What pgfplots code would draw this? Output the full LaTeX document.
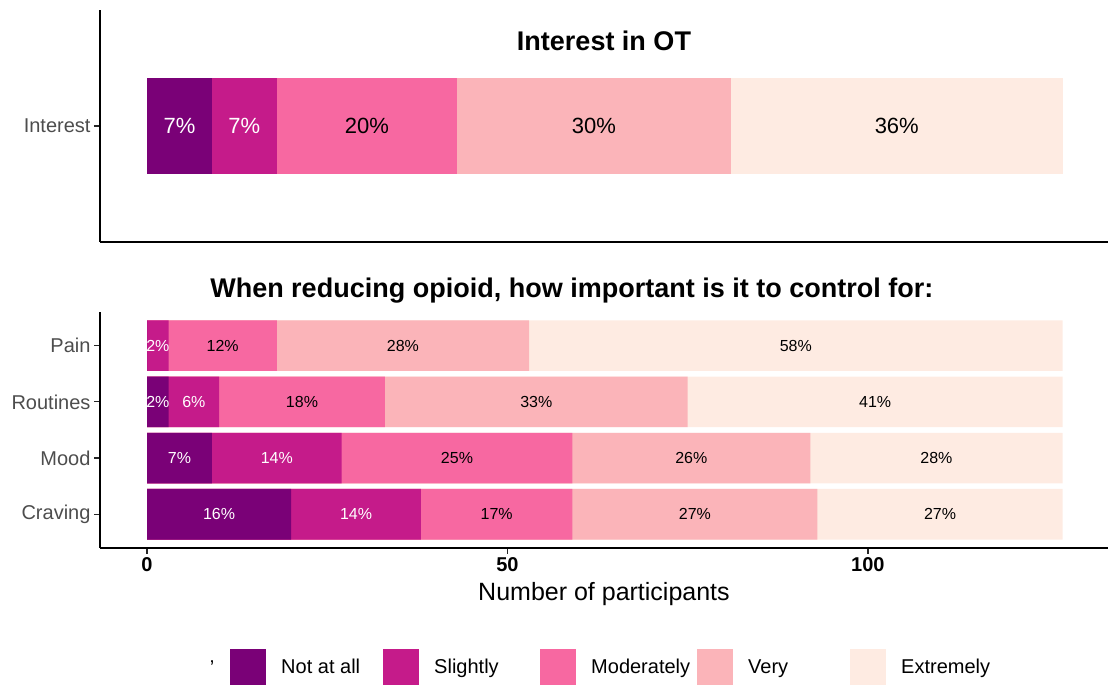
\documentclass[border=0pt]{standalone}
\usepackage{fontspec}
\setmainfont{Liberation Sans}
\usepackage{pgfplots}
\pgfplotsset{compat=1.18}
\definecolor{cNot}{HTML}{7A0177}
\definecolor{cSli}{HTML}{C51B8A}
\definecolor{cMod}{HTML}{F768A1}
\definecolor{cVer}{HTML}{FBB4B9}
\definecolor{cExt}{HTML}{FEEBE2}
\definecolor{tickgray}{HTML}{4D4D4D}
\pgfplotsset{
  segbar/.style={xbar, bar shift=0pt, fill=#1, draw=none,
    legend image code/.code={\fill[fill=#1] (0pt,-18pt) rectangle (36pt,18pt);}},
  labw/.style={forget plot, only marks, mark=*, mark size=0pt, mark options={draw=none,fill=none},
    nodes near coords, point meta=explicit symbolic,
    nodes near coords style={anchor=center, text=white, font=#1}},
  labb/.style={forget plot, only marks, mark=*, mark size=0pt, mark options={draw=none,fill=none},
    nodes near coords, point meta=explicit symbolic,
    nodes near coords style={anchor=center, text=black, font=#1}},
  common/.style={anchor=south west, width=1008pt, scale only axis,
    xmin=-6.52, xmax=133.3, axis lines*=left,
    axis line style={line width=1.4pt, -, black},
    tick align=outside, major tick length=6pt,
    tick style={line width=1.2pt, color=black!85},
    yticklabel style={font=\fontsize{20}{24}\selectfont, text=tickgray},
    clip=false}
}
\begin{document}
\begin{tikzpicture}[x=1pt,y=1pt]
\path[use as bounding box] (0,0) rectangle (1111,687);
% Top panel
\begin{axis}[common, at={(100pt,445pt)}, height=232pt,
  ymin=0.4, ymax=1.6, xtick=\empty, ytick={1}, yticklabels={Interest},
  bar width=0.5,
  title={Interest in OT},
  title style={at={(0.5,0.84)}, anchor=center, font=\bfseries\fontsize{27}{32}\selectfont}]
\addplot[segbar=cExt] coordinates {(127,1)};
\addplot[segbar=cVer] coordinates {(81,1)};
\addplot[segbar=cMod] coordinates {(43,1)};
\addplot[segbar=cSli] coordinates {(18,1)};
\addplot[segbar=cNot] coordinates {(9,1)};
\addplot[labw=\fontsize{22}{26}\selectfont] table[x=x,y=y,meta=lab] {
x y lab
4.5 1 7\%
13.5 1 7\%
};
\addplot[labb=\fontsize{22}{26}\selectfont] table[x=x,y=y,meta=lab] {
x y lab
30.5 1 20\%
62 1 30\%
104 1 36\%
};
\end{axis}
% Bottom panel
\begin{axis}[common, at={(100pt,139pt)}, height=236pt,
  ymin=0.4, ymax=4.6, ytick={1,2,3,4}, yticklabels={Craving,Mood,Routines,Pain},
  xtick={0,50,100},
  xticklabel style={font=\bfseries\fontsize{20}{24}\selectfont, text=black},
  /pgf/number format/assume math mode=true,
  bar width=0.9,
  xlabel={Number of participants},
  xlabel style={at={(axis description cs:0.5,-0.195)}, anchor=center, font=\fontsize{25}{30}\selectfont},
  title={When reducing opioid, how important is it to control for:},
  title style={at={(0.468,1.064)}, anchor=center, font=\bfseries\fontsize{27}{32}\selectfont},
  reverse legend, legend columns=5,
  legend style={at={(0.129,-0.504)}, anchor=west, draw=none, fill=none, inner sep=0pt,
    column sep=0pt, font=\fontsize{20}{24}\selectfont, cells={anchor=west, inner sep=0pt}}]
\addplot[segbar=cExt] coordinates {(127,1) (127,2) (127,3) (127,4)};
\addlegendentry{\makebox[90pt][l]{\hspace{13pt}Extremely}}
\addplot[segbar=cVer] coordinates {(93,1) (92,2) (75,3) (53,4)};
\addlegendentry{\makebox[113pt][l]{\hspace{13pt}Very}}
\addplot[segbar=cMod] coordinates {(59,1) (59,2) (33,3) (18,4)};
\addlegendentry{\makebox[117pt][l]{\hspace{13pt}Moderately}}
\addplot[segbar=cSli] coordinates {(38,1) (27,2) (10,3) (3,4)};
\addlegendentry{\makebox[117pt][l]{\hspace{13pt}Slightly}}
\addplot[segbar=cNot] coordinates {(20,1) (9,2) (3,3) (0,4)};
\addlegendentry{\makebox[113pt][l]{\hspace{13pt}Not at all}}
\addplot[labw=\fontsize{16}{19}\selectfont] table[x=x,y=y,meta=lab] {
x y lab
1.5 4 2\%
1.5 3 2\%
6.5 3 6\%
4.5 2 7\%
18 2 14\%
10 1 16\%
29 1 14\%
};
\addplot[labb=\fontsize{16}{19}\selectfont] table[x=x,y=y,meta=lab] {
x y lab
10.5 4 12\%
35.5 4 28\%
90 4 58\%
21.5 3 18\%
54 3 33\%
101 3 41\%
43 2 25\%
75.5 2 26\%
109.5 2 28\%
48.5 1 17\%
76 1 27\%
110 1 27\%
};
\end{axis}
\node[font=\fontsize{20}{24}\selectfont] at (212pt,19pt) {'};
\end{tikzpicture}
\end{document}
